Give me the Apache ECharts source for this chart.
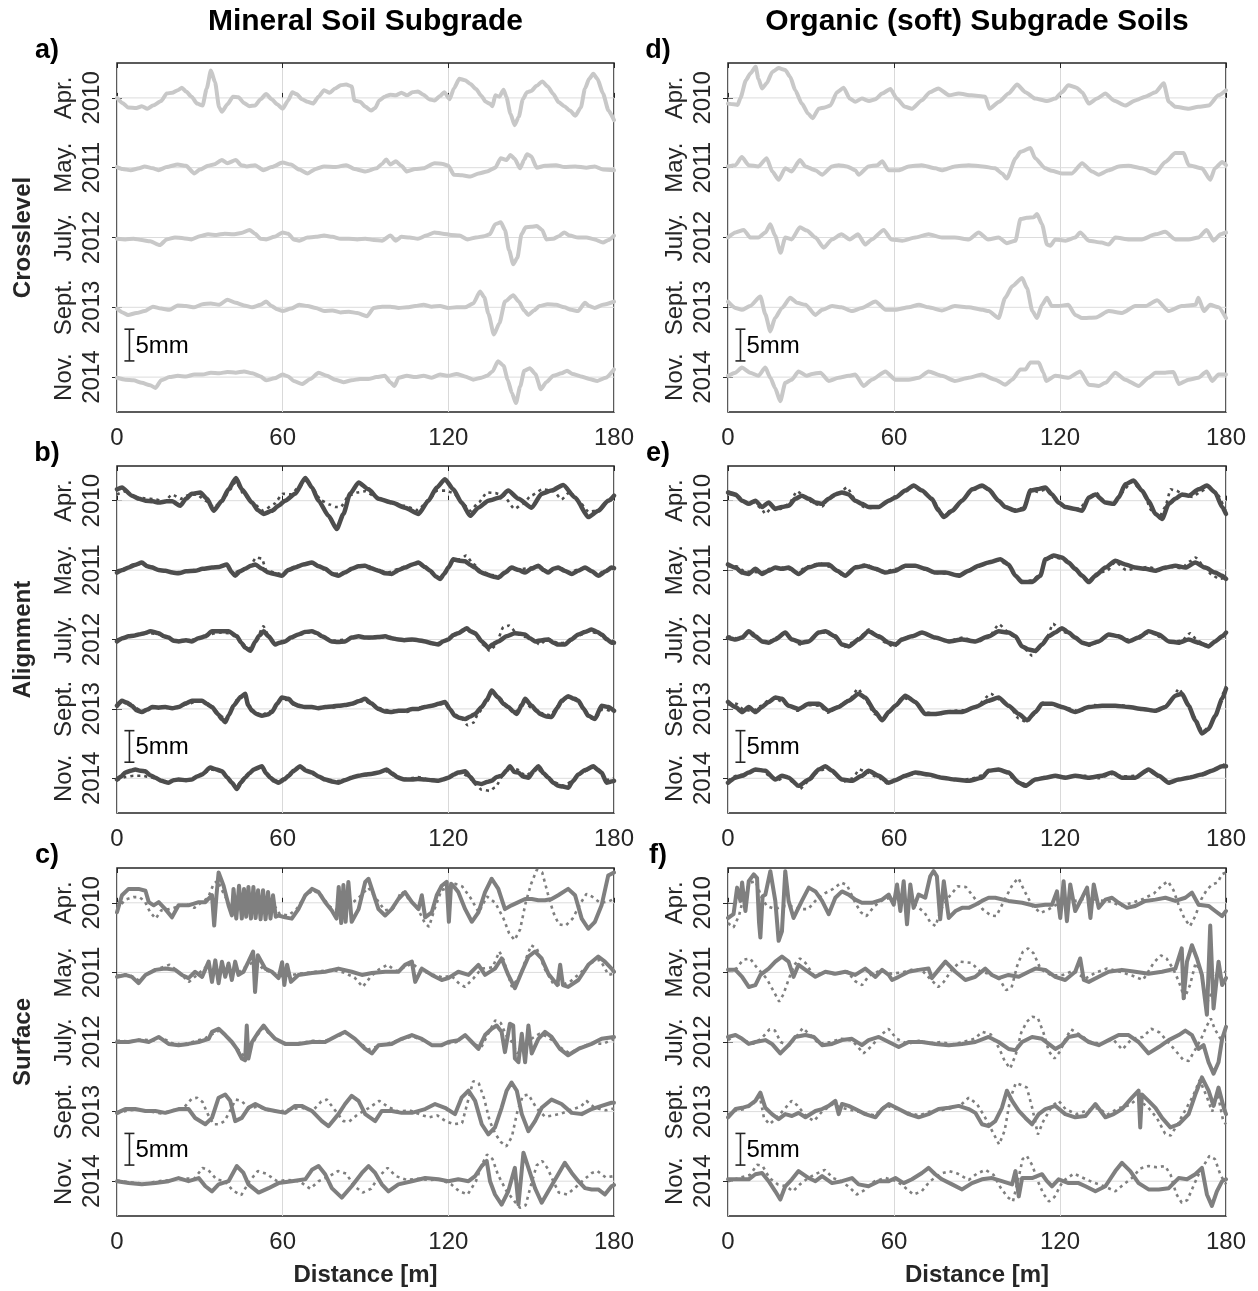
<!DOCTYPE html>
<html>
<head>
<meta charset="utf-8">
<script src="https://cdn.jsdelivr.net/npm/echarts@6/dist/echarts.min.js"></script>
<style>
html,body{margin:0;padding:0;background:#fff}
#chart{width:1258px;height:1291px}
</style>
</head>
<body>
<div id="chart"></div>
<script>
// ---- axes / labels ----
const distanceTicks = [0, 60, 120, 180];
const surveyLabels = ['Apr.\n2010', 'May.\n2011', 'July.\n2012', 'Sept.\n2013', 'Nov.\n2014'];
const traceSpacing = 11;      // mm between stacked surveys
const scaleBarMm = 5;

// ---- Crosslevel, mineral soil subgrade [distance m, mm] ----
const cxM10 = [[0,0],[2,-0.8],[4,-1.5],[7,-1.6],[9,-1.3],[11,-1.7],[13,-1.2],[16,-0.5],[18,0.7],[20,0.8],[22,1.2],[23.5,1.6],[25,1.0],[27,0.2],[29,-0.9],[31,-1.2],[32.5,1.5],[34,4.3],[35.5,2.5],[37,-1.5],[38,-2.2],[40,-1.0],[42,0.2],[44,0.1],[46,-0.8],[48,-1.3],[50,-1.2],[52,-0.2],[54,0.6],[56,-0.2],[58,-1.0],[60,-1.7],[62,-0.4],[63.5,0.9],[65,0.6],[67,-0.2],[69,-0.6],[71,-0.9],[73,0.2],[75,1.2],[77,0.8],[79,1.5],[81,2.0],[83,2.1],[85,1.8],[86,-0.4],[88,-0.6],[90,-1.4],[92,-2.0],[93.5,-1.6],[95,-0.4],[97,0.2],[99,0.5],[101,0.4],[103,0.8],[105,0.4],[107,0.9],[109,1.0],[111,0.5],[113,-0.2],[115,-0.4],[117,0.3],[118.5,0.9],[120.5,-0.2],[122,1.5],[124,3.0],[126,2.8],[128,2.2],[130,1.4],[132,0.3],[133.5,-0.6],[135,-0.9],[136,-1.3],[137,0.4],[138.5,0.2],[140,1.3],[141,0.2],[142.5,-2.5],[144,-4.3],[145.5,-3.0],[147,-0.2],[148.5,0.9],[150,1.1],[152,1.9],[154,2.6],[156,1.8],[158,0.6],[160,-0.7],[162,-1.3],[164,-2.0],[166,-2.8],[168,-1.5],[169.5,1.5],[171,3.0],[172.5,3.8],[174,3.0],[176,0.7],[178,-2.0],[180,-3.5]];
const cxM11 = [[0,0.1],[2,-0.2],[5,-0.4],[8,-0.1],[10,0.2],[13,-0.1],[15,-0.4],[18,0.1],[22,0.5],[25,0.3],[28,-0.9],[30,-0.3],[33,0.3],[35,0.5],[38,1.2],[40,0.7],[43,1.2],[45,0.4],[47,0.2],[50,0.4],[53,-0.4],[56,0.1],[60,0.8],[63,0.5],[66,-0.3],[69,-0.9],[72,-0.2],[75,0.2],[79,0.1],[83,0.4],[86,-0.2],[90,-0.6],[94,-0.1],[96,0.6],[97.5,1.3],[99,0.5],[101,1.0],[103,0.3],[105,-0.6],[108,-0.2],[111,-0.1],[115,0.7],[118,0.6],[120,0.3],[122,-1.1],[125,-1.2],[128,-1.4],[131,-0.9],[134,-0.6],[137,0.0],[139,1.5],[141,1.2],[142.5,2.0],[144,1.4],[146,-0.1],[147.5,1.3],[148.5,2.1],[150,1.8],[152,0.0],[155,0.3],[159,0.4],[162,0.1],[166,0.2],[170,0.0],[173,0.2],[176,-0.3],[180,-0.4]];
const cxM12 = [[0,-0.2],[3,-0.3],[6,-0.2],[9,-0.4],[12,-0.6],[15.5,-1.2],[18,-0.3],[21,0.0],[24,-0.1],[27,-0.3],[30,0.2],[33,0.5],[36,0.4],[39,0.6],[42,0.5],[45,0.7],[48,1.2],[50,0.6],[52,-0.2],[54,-0.3],[57,0.1],[60,0.8],[62,0.6],[64,-0.3],[66,-0.5],[69,0.0],[72,0.1],[75,0.3],[78,0.1],[81,-0.2],[84,-0.2],[87,-0.3],[90,-0.2],[93,-0.4],[96,-0.5],[99,0.3],[101,-0.5],[103,0.1],[106,0.0],[109,-0.2],[112,0.3],[115,0.8],[118,0.6],[121,0.4],[124,0.3],[127,-0.3],[130,0.0],[133,0.2],[135,0.5],[137,2.1],[139,2.4],[140.5,1.2],[142,-2.0],[143.5,-4.2],[145,-3.2],[146.5,0.5],[148,1.6],[150,1.7],[152,1.8],[154,1.2],[155.5,-0.3],[158,-0.2],[160,0.2],[162,0.8],[164,0.3],[167,0.0],[170,0.0],[173,-0.3],[176,-0.8],[178,-0.4],[180,0.3]];
const cxM13 = [[0,-0.2],[2,-0.8],[4,-1.2],[7,-0.9],[10,-0.6],[13,0.1],[16,-0.2],[19,-0.4],[22,0.3],[25,0.2],[28,0.0],[31,0.5],[34,0.6],[37,0.4],[40,1.2],[43,0.7],[46,0.3],[49,0.0],[52,0.4],[54,0.9],[56,0.2],[58,-0.3],[60,-0.6],[63,-0.2],[66,0.4],[69,0.2],[72,-0.1],[75,-0.6],[78,-0.5],[81,-0.8],[84,-0.7],[87,-0.9],[90.5,-1.4],[93,-0.1],[96,0.1],[99,0.1],[102,-0.1],[105,0.0],[108,0.2],[111,0.4],[114,0.1],[117,0.2],[120,-0.1],[123,0.0],[126,0.0],[129,0.6],[131.5,2.5],[133,1.6],[134.5,-1.0],[136.5,-4.3],[138.5,-2.5],[140.5,0.9],[143.5,1.9],[145.5,0.9],[147.5,-0.5],[149,-1.2],[151,-0.5],[153,0.2],[156,0.5],[159,0.4],[162,0.0],[164.5,-0.4],[167,-0.6],[169.5,0.7],[171,0.2],[173,-0.1],[176,0.4],[180,0.9]];
const cxM14 = [[0,-0.1],[3,-0.4],[6,-0.5],[9,-0.9],[12,-1.3],[14,-1.7],[16,-0.5],[19,0.0],[22,0.2],[25,0.1],[28,0.4],[31,0.4],[34,0.7],[37,0.6],[40,0.8],[43,0.7],[46,0.9],[49,0.6],[52,0.1],[54,-0.5],[57,-0.2],[60,0.4],[62,0.1],[64,-0.6],[67,-1.1],[70,-0.3],[73,0.7],[76,0.2],[79,-0.4],[82,-0.8],[85,-0.5],[88,-0.3],[91,-0.3],[94,0.0],[97,0.2],[99,-0.8],[100.5,-1.4],[102,-0.1],[105,0.2],[108,0.0],[111,0.2],[114,-0.1],[117,0.4],[120,0.2],[123,0.5],[126,0.1],[129,-0.4],[132,-0.1],[134,0.2],[136,0.9],[138,2.5],[140,1.8],[141.5,-0.4],[143,-2.5],[144.5,-4.1],[146,-1.5],[147.5,1.0],[149.5,1.4],[151.5,0.5],[153.5,-1.9],[155.5,-0.8],[158,0.2],[161,0.6],[163,1.0],[165,0.5],[168,0.1],[171,-0.3],[174,-0.6],[177,-0.1],[180,1.2]];

// ---- Crosslevel, organic subgrade ----
const cxO10 = [[0,-0.9],[2,-1.0],[3.5,-1.1],[4.5,0.0],[6.5,2.8],[8,3.8],[10,4.9],[11,3.0],[12.3,1.5],[14,2.3],[16,4.1],[18.3,4.7],[20.7,4.4],[22.5,3.3],[24.3,1.2],[26.7,-0.9],[29,-2.5],[30.6,-3.2],[32.8,-1.7],[35,-1.5],[37,-1.2],[39.4,0.9],[41.8,1.6],[44,-0.1],[46,-0.6],[48.4,-0.1],[51,-0.5],[53.3,-0.2],[55.7,0.7],[58.7,1.4],[61,-0.1],[64,-1.4],[66.5,-1.7],[70,-0.4],[73,0.9],[76,1.5],[80,0.4],[83.4,0.7],[88,0.4],[93,0.2],[94.5,-1.7],[98,-0.6],[101.4,0.7],[104.5,2.1],[107.5,0.9],[111,-0.1],[115.3,-0.5],[118.3,-0.1],[120.7,0.9],[123,2.0],[126,1.6],[128,0.9],[130.4,-0.9],[133.4,-0.1],[136.4,0.7],[139.4,-0.4],[143.6,-1.2],[147.2,-0.4],[150.8,0.2],[154.5,0.9],[157.5,2.3],[159.3,-0.6],[161.7,-1.4],[166.5,-1.7],[170,-1.4],[173.7,-1.2],[177.3,0.4],[180,1.2]];
const cxO11 = [[0,0.2],[2.7,0.4],[5,1.7],[7.5,0.4],[11,0.2],[14,1.5],[16,-0.6],[18.3,-1.9],[20.7,-0.1],[23,-0.6],[26,1.2],[28,0.2],[31.6,-0.4],[34,-1.1],[37.6,0.2],[40,0.4],[43,0.2],[46,-0.4],[47.2,-1.1],[50.8,0.2],[54,0.4],[55.7,1.0],[58,-0.4],[61.7,-0.4],[65.3,0.2],[70,0.4],[75,-0.1],[77.3,-0.4],[82,0.2],[87,0.4],[92,0.2],[96.6,-0.1],[99,-0.9],[100.8,-1.7],[104,1.5],[105.7,2.5],[109.3,3.1],[111,1.5],[114.7,-0.1],[117,-0.5],[120.7,-0.9],[124.3,-0.9],[128,0.7],[131.6,-0.6],[134,-1.1],[137.6,-0.4],[141.2,0.2],[144.8,0.3],[149.6,-0.1],[154.5,-0.9],[158,0.9],[161.7,2.3],[164.7,2.3],[166.5,0.4],[171.3,-0.1],[174.3,-1.9],[176,-0.1],[178.6,0.9],[180,0.4]];
const cxO12 = [[0,0.0],[2.7,0.8],[5.7,1.2],[8,0.0],[11,0.0],[13.5,0.8],[15.3,2.1],[17,0.3],[19,-2.4],[20.7,0.0],[23,-0.3],[26,1.6],[28.5,1.1],[31.6,0.0],[34.6,-1.6],[37.6,-0.3],[41,0.5],[44,-0.3],[47,0.5],[49.6,-1.1],[52,-0.3],[56.3,1.2],[59,-0.3],[63,-0.5],[67.7,0.0],[72.5,0.5],[77.3,0.0],[82,0.0],[87,-0.3],[90.6,0.8],[94,-0.3],[97.8,0.0],[100.8,-0.9],[103.9,-0.5],[105.7,2.9],[108,3.1],[110.5,3.2],[111.7,3.7],[113.5,2.1],[115.3,-1.1],[116.5,-1.3],[118.3,-0.3],[122,-0.5],[125.5,0.0],[127.3,0.8],[130.4,-0.5],[135,-0.8],[137.6,-1.1],[140,0.0],[145,-0.3],[149.6,-0.3],[154.5,0.5],[158,0.9],[161.7,-0.3],[166.5,-0.3],[170,0.0],[173,1.2],[175.5,-0.5],[178,0.5],[180,0.8]];
const cxO13 = [[0,0.9],[2.7,-0.1],[5,-0.4],[8,0.2],[11.7,1.7],[13.5,-1.1],[15.3,-3.8],[17,-1.7],[19.5,-0.1],[22.5,1.5],[25,0.7],[28,0.4],[31.6,-1.2],[34,-0.4],[37.6,0.2],[41,0.0],[44.8,-0.6],[48.4,-0.1],[53.3,0.9],[57,-0.4],[60.5,-0.4],[65.3,0.0],[69,0.4],[72.5,0.0],[77.3,-0.5],[82,0.2],[87,0.0],[92,-0.4],[94.2,-0.6],[97.8,-1.7],[100.2,1.5],[102.7,3.3],[106.3,4.6],[108.1,3.0],[110,-0.6],[111.7,-1.7],[113.5,0.4],[115.3,1.5],[117,0.2],[119.5,0.2],[123,0.4],[125.5,-1.2],[128,-1.7],[133,-1.6],[137.6,-0.6],[142.4,-0.9],[147.2,0.2],[151,0.2],[155.1,1.1],[159.3,-0.6],[164,0.2],[169,0.4],[170,1.5],[172,-0.6],[174.3,0.4],[177.3,0.0],[180,-1.7]];
const cxO14 = [[0,0.2],[2.7,0.7],[5,1.5],[8,0.7],[11,0.2],[13.5,1.5],[15.3,-0.1],[17,-1.7],[18.9,-3.8],[20.7,-0.9],[23,-0.4],[25.5,0.9],[28.5,0.2],[30.4,0.5],[33.4,0.7],[36.4,-0.6],[40,-0.1],[43.6,0.2],[46,0.4],[49,-1.4],[52,-0.4],[56.9,0.9],[60.5,-0.4],[65.3,-0.4],[69,-0.1],[72.5,0.9],[77.3,0.2],[82,-0.6],[87,-0.1],[91.8,0.4],[96.6,-0.4],[100.2,-1.2],[102.7,-0.4],[105.7,1.2],[107.5,1.2],[109.3,2.3],[112.3,2.3],[114,0.7],[115,-0.6],[118.3,0.2],[123,-0.1],[127.3,0.9],[130.4,-1.2],[134,-1.4],[136.4,-0.9],[140,0.7],[143.6,-0.4],[148.4,-1.4],[152,-0.1],[154.5,0.7],[158,0.7],[161,0.8],[163,-1.1],[166.5,-0.4],[170,-0.1],[173,0.9],[175,-0.6],[177.3,0.4],[180,0.4]];

// ---- Alignment, mineral soil subgrade (solid and dotted) ----
const alM10 = [[0,1.8],[1.8,2.1],[5.4,0.8],[8,0.3],[10.3,0.0],[13,-0.1],[15.1,-0.3],[18,-0.1],[20,-0.1],[22.9,-0.8],[25,0.3],[27.1,1.1],[30.2,1.3],[32.6,0.3],[35,-1.6],[38,0.0],[40.4,1.8],[43.1,3.6],[45.2,1.8],[48.9,-0.3],[51,-1.5],[53.1,-2.1],[56.1,-1.6],[58.5,-0.8],[60.9,0.0],[64.5,1.1],[68.2,3.6],[70.6,2.1],[73,0.0],[76.6,-2.4],[79.6,-4.5],[82,-2.1],[84.4,1.1],[87.5,2.9],[91.1,1.8],[94.7,0.3],[99.5,-0.3],[104.3,-1.1],[109.2,-2.1],[112.8,0.0],[115.8,2.1],[118.8,3.4],[121.8,1.8],[124.8,-0.3],[127.9,-2.4],[130.9,-1.1],[134.5,0.0],[138.7,0.5],[141.7,1.6],[145.4,0.3],[150.2,-1.1],[153.8,1.1],[157.4,1.6],[161.6,2.5],[165.9,0.5],[170.7,-2.6],[174.3,-1.6],[177.9,0.0],[180,0.8]];
const alM10d = [[0,1.0],[3,1.5],[6,0.6],[10,0.4],[14,0.2],[17,-0.2],[20,1.0],[23,0.3],[26,0.9],[29,1.0],[32,0.0],[35,-1.0],[38,-0.2],[41,1.8],[43,3.0],[46,1.0],[49,-0.3],[53,-1.6],[57,-0.5],[60,1.1],[63,1.0],[66,2.2],[68.5,3.2],[71,1.8],[74,0.0],[77,-0.6],[79,-1.0],[81,-1.0],[84,0.8],[87,1.3],[90,1.5],[94,0.5],[99,-0.2],[104,-0.8],[109,-1.5],[113,0.2],[116,1.6],[119,1.6],[122,1.2],[125,-0.3],[128,-1.6],[131,-0.3],[134,1.3],[137,1.2],[140,0.8],[144,-1.3],[147,-0.5],[150,0.8],[154,1.8],[158,1.6],[161,0.2],[164,1.4],[167,0.0],[171,-1.8],[174,-1.5],[178,-0.2],[180,0.5]];
const alM11 = [[0,-0.4],[2,0.0],[4.2,0.4],[6.5,0.8],[9,1.2],[11,0.6],[12.7,0.4],[15,0.0],[17.5,-0.1],[20,-0.4],[22.3,-0.5],[25,-0.2],[28.3,-0.1],[31,0.2],[34.4,0.4],[37,0.5],[39.8,0.9],[41.5,-0.3],[42.8,-0.9],[44.5,-0.2],[46.4,0.2],[48.5,0.7],[50.1,0.9],[52.5,0.2],[54.9,-0.4],[57,-0.6],[59.7,-0.9],[62,0.0],[64.5,0.4],[67.5,0.9],[70.6,1.2],[73,0.6],[75.4,0.2],[78,-0.6],[80.2,-0.9],[82.5,-0.4],[85,0.2],[87.5,0.6],[89.9,0.7],[92,0.3],[94.7,-0.1],[97,-0.5],[99.5,-0.6],[102,0.0],[104.3,0.4],[107,0.9],[109.2,1.2],[111.5,0.5],[113.4,-0.1],[115.5,-1.0],[117,-1.4],[118.5,-0.6],[120,0.4],[121.8,1.7],[124,1.5],[126.1,1.4],[128,0.8],[129.7,0.4],[131.5,-0.3],[133.3,-0.6],[136,-1.0],[138.1,-1.2],[140.5,-0.4],[142.9,0.4],[145.5,0.0],[147.8,-0.4],[150,0.2],[152.6,0.7],[154.5,0.0],[156.2,-0.4],[158,0.2],[159.8,0.4],[162,-0.1],[164.7,-0.6],[167,-0.1],[169.5,0.4],[172,-0.2],[174.3,-0.9],[177,-0.2],[179.1,0.4],[180,0.3]];
const alM11d = [[0,-0.1],[3,0.3],[6,0.9],[9,1.0],[12,0.6],[16,-0.1],[20,-0.3],[24,-0.3],[28,0.0],[32,0.3],[36,0.5],[40,0.7],[42,-0.5],[45,0.0],[48,0.6],[50.5,2.0],[52.5,1.8],[54,0.0],[57,-0.4],[60,-0.7],[64,0.5],[68,1.0],[71,1.0],[75,0.1],[79,-0.6],[83,-0.3],[87,0.5],[90,0.8],[94,0.1],[98,-0.4],[102,0.2],[106,0.8],[109,1.0],[112,0.3],[115,-0.8],[117,-1.2],[119,-0.2],[121.5,1.5],[124,1.7],[126.5,2.3],[129,1.0],[132,-0.2],[136,-0.8],[139,-1.0],[142,0.2],[146,0.1],[150,0.4],[153,0.5],[156,-0.3],[160,0.5],[164,-0.4],[168,0.3],[171,0.0],[174,-0.7],[177,0.0],[180,0.5]];
const alM12 = [[0,-0.3],[2,0.2],[4.2,0.5],[6,0.6],[7.8,0.8],[10,1.0],[12.1,1.3],[15.1,1.0],[17,0.5],[18.7,0.3],[20.5,-0.2],[22.3,-0.3],[25,-0.1],[27.1,-0.3],[29.5,0.2],[32,0.5],[34.4,1.3],[37.5,1.3],[40.4,1.3],[43.4,0.5],[45,-0.5],[46.4,-1.3],[48.3,-1.8],[50.1,-0.3],[51.5,0.6],[53.1,1.3],[54.9,0.5],[57.3,-0.8],[59,-0.5],[60.9,-0.3],[63,0.3],[65.7,0.8],[68,1.2],[70.6,1.3],[72.5,1.0],[74.2,0.5],[77.8,-0.3],[80,-0.4],[82.6,-0.3],[85,0.3],[87.5,0.5],[90,0.3],[92.3,0.3],[94.5,0.4],[97.1,0.5],[99.5,0.2],[101.9,0.0],[104,-0.1],[106.8,0.0],[109,-0.1],[111.6,-0.3],[114,-0.6],[116.4,-0.8],[118,-0.3],[120,0.0],[121.8,0.7],[123.6,1.0],[126.7,1.8],[128,1.3],[129.7,1.0],[132.1,-0.3],[134.5,-1.3],[136,-0.8],[138.1,-0.3],[141.1,0.5],[144.1,1.0],[146,0.9],[147.8,0.8],[149.5,0.2],[151.4,-0.3],[154,-0.1],[156.2,0.0],[158,-0.5],[159.8,-0.8],[162.2,-0.8],[164.5,0.0],[167.1,0.8],[169.5,1.2],[171.9,1.6],[174,1.2],[175.5,0.8],[177.5,0.0],[179.1,-0.5],[180,-0.5]];
const alM12d = [[0,0.0],[3,0.3],[6,0.5],[9,0.9],[12,1.0],[15,0.8],[18,0.4],[21,-0.2],[25,-0.2],[29,0.1],[33,0.8],[37,1.1],[41,1.0],[44,0.0],[46.5,-1.0],[48.5,-1.5],[50.5,0.0],[53,2.1],[55,0.5],[57.5,-0.7],[61,-0.2],[65,0.6],[69,1.1],[72,1.0],[75,0.3],[79,-0.2],[83,0.0],[87,0.5],[91,0.2],[95,0.3],[99,0.4],[103,0.0],[107,-0.1],[111,-0.2],[115,-0.7],[118,-0.4],[121,0.4],[124,1.2],[127,1.6],[130,0.8],[132.5,-0.8],[135,-1.8],[137,-1.0],[140,2.0],[142,2.2],[145,0.9],[148,0.4],[151,-0.1],[153,-0.8],[156,0.1],[160,-0.6],[163,-0.5],[167,0.6],[171,1.3],[174,1.0],[177,0.2],[180,-0.3]];
const alM13 = [[0,0.5],[1.8,1.3],[3.5,1.0],[5.4,0.5],[7,-0.2],[9,-0.5],[11,-0.1],[12.7,0.3],[15,0.2],[17.5,0.3],[20,0.1],[22.3,0.3],[25,0.9],[27.1,1.3],[29,1.3],[30.8,1.3],[32.5,0.8],[34.4,0.3],[36.5,-0.8],[38,-1.6],[39.2,-2.1],[40.5,-1.0],[42.2,0.5],[44.6,1.8],[46.4,2.4],[47.5,0.6],[48.9,-0.3],[50.5,-0.8],[52.5,-1.1],[54.5,-0.9],[56.1,-0.5],[58,0.8],[59.7,1.8],[62.1,1.6],[64,0.8],[65.7,0.5],[68,0.3],[70.6,0.3],[73,0.1],[75.4,0.3],[78,0.4],[80.2,0.5],[82.5,0.6],[85,0.8],[87.5,1.2],[89.9,1.6],[92,0.9],[94.7,0.0],[97,-0.4],[99.5,-0.5],[102,-0.3],[104.3,-0.3],[107,0.0],[109.2,0.0],[111.5,0.3],[114,0.5],[116.5,0.8],[118.8,1.1],[120.5,0.0],[122.4,-1.1],[124,-1.4],[126.1,-1.6],[128,-1.2],[129.7,-0.8],[132.1,0.3],[134,1.5],[135.7,2.9],[138.1,1.8],[140,0.8],[141.7,0.3],[143.5,-0.4],[144.8,-0.8],[146.5,0.5],[147.8,1.6],[150.2,0.5],[152,-0.3],[153.2,-0.8],[155.5,-1.2],[157.4,-1.3],[159.5,0.2],[161,1.3],[163.4,2.0],[165.5,1.6],[167.1,1.3],[169,0.0],[170.7,-1.1],[173.1,-1.6],[175.5,0.5],[177.9,0.3],[180,-0.3]];
const alM13d = [[0,0.8],[3,1.0],[6,0.3],[9,-0.3],[13,0.2],[17,0.4],[21,0.2],[25,0.7],[29,1.2],[32,1.0],[35,0.0],[38,-1.2],[39.5,-1.8],[42,0.3],[44,1.9],[46,2.2],[48.5,0.0],[52,-1.0],[56,-0.3],[59.5,1.5],[62,1.4],[66,0.6],[70,0.2],[74,0.3],[78,0.2],[82,0.5],[86,0.9],[89.5,1.3],[93,0.5],[97,-0.2],[101,-0.3],[105,-0.5],[109,0.2],[113,0.4],[117,0.7],[119,0.9],[122,-0.8],[125,-1.6],[127,-2.6],[129,-2.2],[131,-0.6],[134,1.2],[136,2.7],[138.5,1.8],[141,0.4],[144,-0.6],[147.5,1.3],[150,0.2],[153,-0.6],[157,-1.0],[160,0.6],[163,1.8],[166,1.7],[169,0.2],[171,-1.5],[173,-1.6],[176,0.0],[180,-0.5]];
const alM14 = [[0,-0.2],[1.5,0.3],[3,0.9],[5,1.2],[6.6,1.4],[8.5,1.2],[10.3,1.1],[12,0.5],[13.9,0.1],[16,-0.4],[18.7,-0.7],[20.5,-0.3],[22.3,-0.2],[25,-0.3],[27.1,-0.2],[29,0.3],[30.8,0.6],[33.8,1.7],[36,1.4],[38,1.1],[40,0.1],[41.6,-0.7],[43.4,-1.7],[45,-0.6],[46.4,0.1],[48,0.8],[49.5,1.4],[52.5,1.9],[54,0.8],[55.5,0.1],[57,-0.4],[58.5,-0.7],[60.5,-0.2],[62.1,0.4],[64,1.2],[66.3,1.9],[68.5,1.2],[70.6,0.9],[73,0.3],[75.4,-0.2],[78,-0.5],[80.2,-0.7],[82.5,-0.3],[85,0.1],[87.5,0.4],[89.9,0.6],[92,0.7],[94.7,0.9],[97.7,1.4],[99.5,0.8],[101.9,0.1],[104,-0.2],[106.8,-0.2],[109,-0.1],[111.6,-0.2],[114,-0.3],[116.4,-0.4],[118,-0.2],[120,0.1],[122,0.6],[123.6,0.9],[126.1,1.1],[128,0.2],[129.7,-0.7],[132.1,-0.9],[134,-0.6],[135.7,-0.4],[137.5,0.2],[139.3,0.4],[141,1.2],[142.3,1.9],[144,1.0],[145.4,0.9],[147,0.3],[149,0.1],[151,1.2],[152.6,1.9],[154.5,0.8],[156.2,0.1],[158,-0.7],[159.8,-1.2],[161.5,-1.3],[163.4,-1.5],[165,-0.5],[167.1,0.6],[169.5,1.3],[172.5,1.9],[174,1.4],[175.5,0.9],[177.3,-0.7],[179,-0.5],[180,-0.4]];
const alM14d = [[0,-0.3],[3,0.2],[6,0.4],[9,0.4],[12,0.2],[15,-0.2],[18,-0.5],[22,-0.3],[26,-0.2],[30,0.4],[34,1.4],[38,1.1],[41,-0.3],[43,-1.4],[46,0.0],[49,1.2],[52,1.7],[55,0.3],[58,-0.5],[62,0.3],[66,1.7],[70,1.0],[74,0.1],[78,-0.6],[82,-0.3],[86,0.3],[90,0.5],[94,0.9],[97,1.2],[101,0.3],[105,-0.1],[109,0.2],[113,-0.2],[117,-0.3],[121,0.3],[124,1.0],[127,0.4],[130,-1.0],[132,-1.8],[135,-2.0],[137,-1.4],[140,0.6],[142,1.7],[145,1.4],[148,0.4],[152,1.6],[155,0.5],[158,-0.6],[162,-1.2],[165,-0.4],[168,0.8],[172,1.7],[175,1.0],[177,-0.3],[180,0.0]];

// ---- Alignment, organic subgrade ----
const alO10 = [[0,1.3],[2.7,1.0],[5.1,0.0],[7.5,-0.5],[9.9,0.0],[12.3,-1.0],[14.7,-0.3],[17.1,-1.3],[19.5,-1.0],[21.9,-0.8],[24.3,0.3],[26.7,0.8],[29.2,0.3],[31.6,-0.3],[34,-0.5],[36.4,0.3],[38.8,1.0],[41.2,1.3],[43.6,1.0],[46,0.0],[48.4,-0.5],[50.8,-1.0],[54.5,-1.0],[58.1,0.0],[60.5,0.5],[64.1,1.6],[67.1,2.4],[70.1,1.6],[73.7,0.3],[76,-1.5],[78,-2.6],[81,-1.6],[84.6,0.0],[88.2,1.8],[91.8,2.4],[94.2,1.8],[97.8,0.0],[100.2,-1.0],[103.9,-1.6],[106.9,-1.3],[109.3,1.6],[111.7,1.8],[114.7,2.1],[117.1,1.0],[119.5,-0.3],[121.9,-1.0],[125.5,-1.3],[128,-1.6],[130.4,0.5],[132.8,1.0],[136.4,-0.3],[139.4,-0.5],[141.2,0.5],[143.6,2.6],[146.6,3.2],[149.6,1.6],[152,0.0],[154.5,-2.1],[156.9,-2.9],[159.3,-0.5],[161.7,0.3],[164.1,1.0],[166.5,0.8],[170.1,1.8],[173.1,2.4],[176.1,1.3],[178.6,-1.0],[180,-2.1]];
const alO10d = [[0,1.5],[3,0.8],[6,-0.3],[9,-0.2],[12,-1.2],[13.5,-2.1],[16,-1.0],[19,-1.3],[22,-0.5],[25,1.5],[28,0.5],[31,-0.4],[34,-0.9],[37,0.5],[40,1.1],[43,2.1],[46,0.2],[49,-1.0],[52,-1.2],[56,-0.6],[60,0.6],[64,1.4],[67,2.2],[70,1.5],[74,0.0],[78,-2.3],[81,-1.4],[85,0.2],[88,1.6],[92,2.2],[95,1.5],[98,-0.2],[101,-1.2],[104,-1.4],[107,-1.1],[109.5,1.8],[112,1.4],[115,1.8],[117,0.8],[120,-0.5],[123,-1.2],[127,-1.3],[130,0.2],[133,1.3],[136,0.0],[139,-0.7],[142,1.2],[146,3.0],[150,1.4],[153,-1.5],[156,-2.5],[158,-1.0],[160,1.8],[162,1.6],[165,0.8],[168,0.6],[171,1.5],[174,2.2],[177,0.9],[180,-1.8]];
const alO11 = [[0,0.9],[2.7,0.4],[5.1,-0.4],[7.5,-0.6],[9.9,0.2],[12.3,-0.6],[14.7,-0.1],[17.1,0.4],[19.5,0.2],[21.9,0.4],[25.5,-0.6],[29,0.4],[32.8,0.9],[36.4,0.9],[39.4,-0.1],[42.4,-0.9],[46,0.4],[49.6,0.7],[53.3,0.2],[56.9,-0.4],[60.5,-0.1],[64.1,0.7],[67.7,0.7],[71.3,0.2],[74.9,-0.4],[78.6,-0.4],[83.4,-0.9],[87,-0.1],[90.6,0.7],[94.2,1.2],[98.4,1.7],[101.4,0.9],[103.9,-0.9],[106.3,-1.9],[109.9,-1.9],[112.9,-0.9],[114.7,1.7],[117.7,2.3],[120.7,2.0],[123.1,1.2],[125.5,0.2],[128,-0.9],[130.4,-1.9],[132.8,-0.9],[136.4,0.4],[140,1.5],[143.6,0.9],[147.2,0.4],[150.8,0.2],[154.5,-0.1],[158.1,0.4],[161.7,0.7],[165.3,0.4],[168.9,1.2],[172.5,0.4],[176.1,-0.4],[178.6,-0.9],[180,-1.4]];
const alO11d = [[0,0.6],[3,0.6],[6,-0.2],[9,-0.3],[12,-0.4],[15,0.2],[18,0.5],[21,0.3],[25,-0.3],[29,0.6],[33,1.1],[36,0.6],[39,0.0],[42,-1.0],[46,0.6],[50,0.9],[54,0.0],[57,-0.2],[61,0.2],[64,0.5],[68,0.6],[72,0.0],[76,-0.5],[80,-0.6],[84,-0.7],[88,0.2],[91,0.8],[95,1.4],[98.5,1.5],[101.5,0.6],[104,-1.1],[107,-1.8],[110,-1.6],[113,-0.6],[115,1.9],[118,2.0],[121,1.8],[124,0.8],[127,-0.5],[130.5,-1.7],[133,-0.6],[137,-0.1],[140,1.3],[144,0.0],[148,0.3],[152,0.5],[156,0.0],[160,0.5],[164,0.3],[167,1.4],[169,2.0],[172,0.6],[175,-0.8],[177.5,-1.4],[180,-1.2]];
const alO12 = [[0,0.3],[2.7,0.0],[5.1,0.3],[7.5,1.3],[9.9,0.5],[12.3,-0.3],[14.7,-0.5],[17.1,0.0],[20.7,1.1],[23.1,0.0],[26.7,-0.5],[29.2,-0.3],[32.8,1.1],[35.2,1.3],[38.8,0.5],[41.2,-0.8],[43.6,-1.1],[47.2,0.0],[50.8,1.3],[54.5,0.5],[58.1,-0.5],[60.5,-0.8],[62.9,0.0],[66.5,0.5],[70.1,1.1],[74.9,0.3],[79.8,-0.3],[84.6,0.0],[89.4,-0.3],[94.2,0.5],[97.8,1.3],[101.4,1.1],[103.9,0.5],[106.3,-1.1],[108.7,-1.6],[111.1,-1.8],[113.5,-0.8],[115.9,0.5],[118.3,1.1],[120.7,1.8],[123.1,1.1],[125.5,0.3],[128,-0.5],[130.4,-0.8],[134,-0.3],[137.6,0.8],[141.2,0.5],[144.8,-0.3],[148.4,0.3],[152,1.3],[155.7,0.8],[159.3,-0.3],[162.9,-0.5],[166.5,0.0],[170.1,-0.5],[173.7,-1.1],[176.1,-0.3],[178.6,0.5],[180,1.1]];
const alO12d = [[0,0.5],[3,0.2],[6,0.5],[8,1.4],[11,0.2],[14,-0.6],[17,0.2],[20,1.0],[23,0.2],[26,-0.8],[30,0.0],[33,1.2],[36,1.0],[39,0.2],[42,-1.2],[45,-0.5],[48,0.5],[51,1.6],[54,0.4],[57,-0.5],[60,-1.2],[63,0.2],[67,0.6],[70,1.0],[75,0.2],[80,-0.2],[85,0.3],[90,-0.4],[94,0.3],[98,2.4],[101,1.3],[104,0.2],[107,-1.4],[110,-2.6],[112,-1.5],[115,0.0],[117.5,2.5],[119,2.0],[121,1.2],[124,0.8],[127,0.0],[130,-1.0],[134,-0.4],[138,0.9],[142,0.2],[146,-0.1],[150,0.8],[153,1.2],[157,0.2],[160,-0.4],[164,-0.2],[167,1.0],[170,-0.3],[174,-1.0],[177,0.0],[180,0.8]];
const alO13 = [[0,1.1],[2.7,0.3],[5.1,-0.5],[7.5,0.3],[9.9,-0.5],[12.3,0.3],[14.7,1.1],[17.1,1.8],[19.5,1.6],[21.9,0.5],[25.5,0.0],[29.2,0.8],[32.8,0.8],[36.4,-0.3],[40,0.3],[43.6,1.3],[47.2,2.4],[49.6,1.8],[53.3,-0.5],[55.7,-1.8],[58.1,-0.5],[60.5,0.5],[64.1,2.1],[67.7,1.1],[71.3,-0.8],[74.9,-0.8],[79.8,-0.5],[84.6,-0.5],[89.4,0.3],[94.2,1.3],[97.8,1.8],[101.4,0.5],[105.1,-0.8],[108.1,-1.8],[111.1,-0.5],[113.5,0.8],[117.1,0.8],[120.7,0.3],[125.5,-0.5],[130.4,0.3],[135.2,0.5],[140,0.5],[144.8,0.3],[149.6,0.0],[154.5,-0.3],[158.1,0.3],[161.7,2.1],[164.1,2.4],[166.5,0.5],[168.9,-1.8],[171.3,-3.9],[173.7,-3.2],[176.1,-1.1],[178.6,1.6],[180,3.2]];
const alO13d = [[0,0.7],[3,0.8],[6,-0.2],[9,-0.3],[12,0.5],[15,1.5],[18,1.4],[21,0.8],[25,-0.3],[29,0.6],[33,0.5],[36,-0.6],[40,0.5],[44,1.5],[47,3.2],[50,1.2],[53,-0.8],[56,-1.6],[59,-0.2],[63,1.8],[67,1.3],[71,-0.5],[76,-0.9],[81,-0.3],[86,-0.2],[90,0.5],[95,2.4],[98,1.5],[102,0.3],[105,-1.5],[108,-2.1],[111,-0.7],[114,1.0],[118,0.6],[122,0.2],[127,-0.4],[132,0.6],[137,0.4],[142,0.6],[147,0.1],[152,-0.2],[157,0.0],[160,1.2],[163,3.2],[166,1.0],[169,-1.6],[171.5,-3.6],[174,-2.8],[177,-0.4],[179,2.5],[180,3.6]];
const alO14 = [[0,-0.7],[2.7,0.1],[5.1,0.4],[7.5,0.9],[9.9,1.4],[13.5,1.2],[17.1,-0.2],[19.5,0.4],[21.9,0.1],[25.5,-1.2],[29.2,-0.2],[32.8,1.4],[35.2,1.9],[37.6,1.2],[41.2,-0.2],[44.8,-0.4],[48.4,0.4],[50.8,1.2],[54.5,0.4],[58.1,-0.7],[60.5,-0.3],[64.1,0.4],[67.7,0.9],[72.5,0.6],[77.3,0.1],[82.2,-0.2],[87,-0.4],[91.8,0.1],[94.2,1.2],[97.8,1.4],[101.4,0.9],[105.1,-0.7],[107.5,-1.2],[111.1,-0.2],[114.7,0.1],[118.3,0.4],[121.9,0.1],[125.5,0.4],[130.4,0.1],[135.2,0.4],[138.8,0.9],[142.4,0.1],[147.2,0.1],[152,1.4],[155.7,0.4],[159.3,-0.7],[162.9,-0.2],[166.5,0.1],[171.3,0.6],[174.9,1.2],[178.6,1.9],[180,1.9]];
const alO14d = [[0,-0.4],[3,0.4],[6,0.6],[9,1.2],[12,1.3],[15,0.4],[18,-0.3],[21,0.3],[24,-0.8],[26,-1.7],[29,-0.5],[33,1.2],[36,1.6],[39,0.6],[42,-0.5],[45,0.0],[47.5,1.4],[50,1.0],[54,0.2],[58,-0.9],[61,-0.1],[65,0.6],[69,0.7],[73,0.4],[78,0.0],[83,-0.3],[88,-0.1],[92,0.5],[96,1.3],[100,1.1],[104,-0.3],[108,-1.0],[112,0.0],[116,0.3],[120,0.2],[124,0.3],[129,0.4],[134,0.0],[139,0.7],[143,0.3],[148,0.4],[152,1.2],[156,0.2],[160,-0.6],[164,0.0],[168,0.2],[172,0.8],[176,1.4],[180,2.4]];

// ---- Surface, mineral soil subgrade ----
const suM10 = [[0,-1.5],[1.8,1.2],[4.2,2.2],[7.8,2.2],[10.3,1.9],[11.5,0.1],[13.3,-0.4],[15.1,0.1],[17.5,-1.0],[19.9,-2.3],[22.3,-0.4],[25.9,-0.4],[29.6,0.1],[32,0.1],[34.4,1.2],[35.2,-3.6],[36,1.0],[36.8,4.8],[38.6,2.7],[40.4,-0.4],[41.6,-2.0],[42.2,2.2],[43.2,-2.5],[44.2,2.7],[45.2,-2.5],[46,2.2],[46.8,-2.2],[47.6,2.5],[48.5,-2.5],[49.4,2.5],[50.2,-2.4],[51.1,2.0],[52,-2.6],[52.9,2.0],[53.8,-2.6],[54.7,1.7],[55.6,-2.5],[56.5,1.2],[57.5,-2.2],[58.5,-2.0],[60.9,-2.3],[63.3,-2.5],[65.7,-1.0],[68.2,1.2],[70.6,2.2],[73,1.7],[75.4,0.1],[77.8,-1.2],[79.5,-2.5],[80.3,2.5],[81.2,-3.2],[82,2.8],[82.8,-3.0],[83.8,3.3],[85,-3.0],[87.5,-1.0],[89.9,3.3],[91.1,3.8],[92.3,2.2],[93.5,0.6],[94.7,-1.0],[97.1,-2.0],[99.5,-1.0],[101.9,0.6],[104.3,1.7],[106.8,0.1],[109.2,-1.0],[110.4,1.2],[111.6,-2.3],[114,-1.5],[115.8,1.2],[117.6,2.7],[119.4,3.3],[120.2,-3.0],[121,3.0],[121.8,2.7],[123.6,1.7],[126.1,-1.0],[128.5,-3.0],[130.9,-1.5],[133.3,1.7],[135.7,3.8],[138.1,2.2],[140.5,-1.0],[142.9,-0.4],[145.4,0.1],[147.8,0.6],[150.2,0.6],[152.6,0.4],[155,0.4],[157.4,0.6],[159.8,1.2],[163.4,2.2],[165.9,1.2],[168.3,-2.5],[170.7,-4.1],[173.1,-3.0],[175.5,-0.4],[177.9,4.3],[180,4.8]];
const suM10d = [[0,-1.0],[3,0.5],[6,0.9],[8,0.9],[10,0.3],[12,-1.5],[14,-2.5],[16,-1.2],[19,-1.0],[22,-0.6],[25,-0.2],[28,-0.8],[31,0.2],[33,0.8],[35,3.0],[36.5,3.5],[38,2.0],[41,-0.5],[44,0.5],[47,0.0],[50,0.3],[53,-0.5],[56,0.2],[59,-1.8],[62,-2.0],[65,-1.0],[68,1.0],[71,2.0],[74,1.2],[77,-0.6],[80,-1.2],[84,-0.5],[88,1.0],[91,2.4],[94,0.6],[97,-1.2],[100,-0.9],[103,1.8],[106,0.5],[109,-1.0],[111.5,-3.2],[113,-3.8],[115,-1.0],[117.5,2.0],[120,2.4],[122.5,3.0],[125,2.6],[128,0.8],[131,-1.5],[134,1.0],[137,0.0],[140,-2.5],[142,-4.8],[144,-5.9],[146,-4.2],[148,0.0],[150,3.0],[152,5.2],[154,4.8],[156,1.5],[158,-1.5],[160,-3.4],[162.5,-3.6],[165,-2.5],[168,0.0],[170,1.4],[172,1.0],[175,0.0],[178,0.2],[180,0.6]];
const suM11 = [[0,-0.7],[3,-0.4],[5.4,-0.7],[7.8,-1.7],[10.3,-0.4],[13.9,0.4],[17.5,0.6],[21.1,0.4],[23.5,-0.4],[25.9,-0.9],[28.3,0.1],[30.8,-0.7],[33.2,1.7],[34.4,-1.5],[35.6,1.9],[36.8,-1.7],[38,1.7],[39.2,-0.7],[40.4,1.4],[41.6,-1.2],[42.8,1.7],[44,-0.4],[45.8,0.1],[47.6,1.7],[49.3,3.3],[50,-3.1],[51,2.7],[53.7,0.6],[56.1,0.1],[58.5,-0.9],[59.8,1.6],[60.6,-2.0],[61.6,1.2],[63,-1.5],[65.7,-0.4],[70.6,-0.1],[75.4,0.1],[80.2,0.6],[85,0.1],[88.7,-0.4],[92.3,-0.1],[97.1,0.1],[101.9,0.1],[104.3,1.2],[106.8,1.7],[108,-1.5],[110.4,0.6],[114,-0.4],[117.6,-1.2],[120,-0.9],[123.6,0.1],[127.3,-0.4],[130.9,1.2],[133.3,-0.4],[136.9,0.6],[139.3,2.2],[141.7,-0.4],[144.1,-2.5],[146.6,0.1],[149,2.5],[151.4,3.3],[153.8,2.2],[156.2,-0.2],[159.5,-2.0],[160.5,1.2],[161.5,-2.0],[163.4,-2.3],[167.1,-1.2],[170.7,1.2],[174.3,2.5],[176.7,1.7],[179.1,0.6],[180,0.1]];
const suM11d = [[0,-0.5],[4,-0.3],[8,-1.3],[11,-0.2],[15,0.6],[19,1.2],[22,0.2],[26,-1.5],[29,-0.4],[32,0.8],[35,-0.3],[38,1.0],[41,0.2],[44,0.0],[47,1.0],[50,1.8],[53,0.5],[56,0.0],[59,-0.6],[62,-0.5],[66,-0.2],[70,0.0],[74,0.2],[78,0.4],[82,0.0],[86,-0.8],[89,-2.3],[92,-0.6],[95,0.5],[98,1.2],[101,0.2],[104,0.8],[107,1.4],[110,0.3],[114,-0.3],[118,-0.8],[121,-0.5],[124,-1.8],[126,-2.3],[129,-1.0],[132,0.6],[136,0.8],[138.5,3.3],[140,2.0],[143,-2.3],[146,-0.5],[148,2.0],[150,4.3],[152,3.8],[155,0.5],[158,-1.8],[161,-2.0],[164,-1.5],[168,0.0],[172,1.6],[175,2.0],[178,-0.4],[180,-0.2]];
const suM12 = [[0,0.0],[4.2,0.0],[7.8,0.3],[11.5,0.0],[15.1,0.8],[18.7,-0.3],[22.3,-0.5],[25.9,-0.3],[29.6,0.0],[33.2,0.5],[34.4,1.6],[36.8,2.1],[39.2,1.1],[41.6,0.0],[43.4,-1.1],[45.2,-2.6],[46.4,-2.9],[47,2.6],[47.6,-2.6],[48.9,0.0],[51.3,1.6],[53.1,2.6],[54.9,1.6],[57.3,0.5],[60.9,-0.3],[65.7,-0.3],[70.6,0.0],[75.4,0.0],[80.2,1.1],[82.6,1.6],[86.2,0.5],[89.9,-1.1],[92.3,-1.8],[94.7,-0.5],[99.5,-0.3],[103.1,0.5],[106.8,1.1],[110.4,0.5],[114,-0.5],[117.6,-0.5],[120,0.0],[123.6,0.3],[126.1,1.1],[128.5,0.0],[130.9,-1.1],[133.3,1.1],[135.7,2.1],[137.5,2.6],[139.3,1.6],[140.5,-1.6],[142.3,2.9],[143.5,2.6],[144.1,-2.6],[145.4,-3.2],[146.6,1.3],[147.8,-3.2],[149,2.6],[150.2,-1.8],[152.6,0.5],[155,1.6],[157.4,0.8],[160.4,-1.1],[163.4,-2.1],[167.1,-1.1],[171.9,-0.3],[175.5,0.5],[180,0.8]];
const suM12d = [[0,0.2],[5,0.1],[9,0.4],[13,0.2],[16,0.7],[20,-0.2],[24,-0.4],[28,0.1],[32,0.6],[35,1.4],[37,1.8],[40,0.9],[43,-0.8],[46,-2.2],[48,-1.0],[51,1.2],[53,2.2],[56,1.0],[59,0.0],[63,-0.4],[67,-0.1],[71,0.2],[75,0.1],[79,0.8],[83,1.4],[87,0.2],[91,-1.2],[95,-0.6],[99,-0.1],[103,0.4],[107,0.9],[111,0.2],[115,-0.6],[119,-0.3],[123,0.0],[126,1.2],[129,-0.3],[132,-0.8],[135,1.8],[137,3.4],[139,3.0],[141,1.0],[143,0.0],[145,-1.8],[147,-1.0],[150,0.5],[153,1.3],[155,1.0],[158,0.2],[161,-1.0],[164,-1.8],[168,-0.8],[172,-0.2],[176,-0.3],[180,0.5]];
const suM13 = [[0,-0.2],[3,0.4],[6.6,0.4],[10.3,0.1],[13.9,0.1],[17.5,-0.2],[22.3,0.4],[25.9,0.4],[28.3,-1.0],[32,-2.0],[34.4,-1.0],[36.8,2.2],[39.2,2.7],[41,1.7],[42.8,-1.5],[45.2,-1.0],[47.6,0.6],[50.1,1.2],[53.7,0.4],[57.3,0.1],[60.9,-0.2],[64.5,0.9],[66.9,0.9],[70.6,0.1],[74.2,-1.5],[76.6,-2.3],[80.2,-0.4],[82.6,1.2],[85,2.5],[87.5,1.7],[89.9,-0.4],[93.5,-1.5],[95.9,0.1],[99.5,0.1],[103.1,-0.2],[106.8,-0.2],[111.6,0.4],[115.2,1.2],[118.8,0.6],[122.4,-0.4],[124.8,2.2],[127.3,3.3],[129.7,1.7],[132.1,-2.0],[134.5,-3.6],[136.9,-2.5],[139.3,0.6],[141.1,3.3],[142.9,4.6],[144.8,3.3],[146.6,-0.4],[149,-3.1],[151.4,-1.5],[153.8,0.6],[157.4,1.9],[161,1.2],[164.7,-0.2],[168.3,-0.4],[171.9,0.4],[175.5,0.9],[179.1,1.4],[180,1.4]];
const suM13d = [[0,-0.3],[4,0.2],[8,0.3],[12,0.0],[16,-0.3],[20,0.2],[24,0.5],[27,2.0],[29,2.2],[31,1.5],[33,-0.5],[35,-2.0],[37,-2.0],[39,-1.5],[41,0.2],[43,1.9],[45,1.7],[48,0.5],[51,0.8],[55,0.2],[59,0.0],[63,0.4],[67,0.6],[71,0.2],[74,1.6],[76,1.9],[79,0.2],[82,-1.5],[84,-1.6],[87,-0.5],[91,0.5],[95,1.7],[98,0.8],[102,0.0],[106,0.2],[110,-0.5],[113,-0.9],[116,-0.6],[119,-1.5],[122,-2.0],[125,-1.8],[127,1.5],[129,4.8],[131,4.5],[133,2.0],[135,-1.5],[137,-3.5],[139,-4.8],[141,-5.5],[143,-4.0],[145,0.0],[147,2.5],[149,2.7],[152,0.5],[155,-0.8],[158,-0.6],[161,-0.3],[164,0.2],[168,0.8],[170,1.7],[173,0.6],[177,0.2],[180,0.5]];
const suM14 = [[0,0.0],[4.2,-0.3],[9,-0.5],[13.9,-0.3],[18.7,0.0],[22.3,0.5],[25.9,0.0],[29.6,0.5],[32,-0.8],[34.4,-1.6],[36.8,-0.5],[40.4,0.0],[43.4,2.4],[45.8,1.3],[47.6,-0.5],[51.3,-1.8],[54.9,-1.1],[58.5,-0.3],[63.3,0.0],[68.2,0.3],[70.6,1.8],[73,2.4],[75.4,1.1],[77.8,-1.1],[81.4,-2.6],[85,-0.8],[88.7,1.3],[91.1,2.4],[93.5,1.3],[95.9,-0.5],[98.3,-1.6],[101.9,-0.5],[106.8,0.0],[111.6,0.5],[116.4,0.3],[120,0.0],[123.6,0.3],[127.3,0.0],[129.7,0.8],[132.1,2.4],[133.9,3.2],[135.1,0.0],[136.9,-2.1],[139.3,-3.7],[141.7,-1.6],[144.1,2.1],[145.4,-3.7],[147.2,4.5],[149,2.1],[151.4,-1.1],[153.8,-3.4],[156.2,-1.6],[159.8,1.1],[162.2,2.9],[164.7,1.3],[167.1,0.0],[169.5,-1.1],[171.9,-1.3],[174.3,-1.3],[176.7,-2.1],[179.1,-0.8],[180,-0.6]];
const suM14d = [[0,0.1],[5,-0.2],[10,-0.4],[15,0.0],[20,0.2],[24,0.4],[28,0.4],[31,2.1],[33,1.8],[36,0.3],[39,0.0],[42,-1.5],[45,-2.2],[48,0.0],[51,1.6],[54,1.2],[58,0.0],[62,0.2],[66,0.0],[70,-1.2],[73,0.0],[77,0.8],[80,1.6],[83,1.2],[86,-0.8],[89,-1.8],[92,-1.2],[95,0.8],[98,2.1],[101,0.8],[105,0.2],[109,0.4],[113,0.2],[117,0.3],[121,-0.5],[124,-1.6],[127,-2.1],[130,0.0],[132,2.5],[134,4.2],[136,3.5],[138,1.0],[141,-1.5],[144,-3.2],[146,-4.2],[148,-3.8],[150,-0.5],[152,2.5],[154,3.2],[156,2.0],[158,0.0],[160,-1.8],[163,-2.1],[166,-1.0],[169,0.2],[172,1.3],[174,1.6],[177,0.6],[180,0.8]];

// ---- Surface, organic subgrade ----
const suO10 = [[0,-2.4],[2,-1.8],[3.3,2.4],[4.5,0.3],[5.1,3.2],[6.3,-1.3],[7.5,3.4],[9.3,4.5],[10.5,3.9],[11.2,-3.0],[11.7,-5.5],[12.5,1.0],[13.5,1.3],[15.3,5.0],[17.1,0.3],[18.3,-6.0],[19.5,-4.5],[20.7,5.0],[21.9,0.3],[23.7,-2.4],[26.7,0.3],[29.2,2.4],[31.6,1.8],[34,0.3],[36.4,-1.8],[38.8,0.8],[41.2,1.8],[43.6,1.3],[46,0.5],[48.4,0.0],[52,0.0],[55.7,0.5],[58.1,1.3],[59.9,-0.3],[61.1,2.9],[62.3,-1.3],[63.5,3.4],[64.7,-3.4],[65.9,2.9],[67.1,-0.8],[68.9,1.3],[71.3,0.8],[73.1,4.2],[74.3,5.0],[75.5,4.2],[76.7,-2.6],[78,3.4],[79.8,-2.4],[82.2,-1.3],[84.6,-0.8],[87,-0.8],[89.4,-0.3],[91.8,0.3],[94.2,0.8],[96.6,0.8],[101.4,0.3],[106.3,0.0],[111.1,-0.5],[114.7,-0.3],[117.1,-0.3],[118.9,1.8],[120.1,-2.4],[121.3,3.4],[122.5,-2.9],[123.7,2.9],[125.5,-1.3],[128,0.8],[129.8,2.4],[131,-2.4],[132.2,2.9],[134,-0.8],[136.4,0.5],[138.8,0.8],[141.2,0.0],[144.2,-0.8],[147.2,-0.5],[150.8,0.3],[154.5,0.5],[158.1,0.8],[161.7,0.3],[165.3,0.8],[167.7,1.6],[170.1,-0.3],[173.7,-0.5],[176.1,-1.3],[178.6,-2.1],[180,-1.3]];
const suO10d = [[0,-3.2],[2,-3.9],[4,-2.0],[6,1.5],[8,3.2],[10,3.4],[12,1.0],[14,-0.5],[17,-1.0],[20,-0.5],[23,-0.6],[26,-1.0],[29,-1.0],[32,0.5],[35,1.5],[38,2.2],[41,3.2],[43,2.8],[46,0.0],[48,-1.5],[50,-2.1],[53,-0.5],[56,0.5],[59,0.8],[62,0.5],[65,0.0],[68,-0.5],[71,-1.5],[73,-3.0],[75,-3.7],[77,-1.0],[80,1.0],[83,2.6],[86,2.5],[89,0.8],[92,-1.0],[95,-2.0],[97,-2.1],[100,0.5],[103,3.0],[105,3.9],[107,2.0],[110,-0.5],[113,-1.6],[116,-1.0],[119,-0.2],[122,0.5],[126,0.3],[130,0.8],[134,0.4],[138,0.2],[142,-0.5],[146,0.0],[150,0.6],[154,1.5],[157,2.8],[159,3.4],[161,2.0],[163,-0.5],[165,-2.5],[167,-3.7],[169,-2.0],[171,0.5],[173,2.0],[175,2.9],[177,3.2],[178.5,4.5],[180,4.8]];
const suO11 = [[0,0.4],[2.7,0.4],[5.1,-0.7],[7.5,-2.3],[9.9,-2.0],[11.7,-0.4],[14.7,0.6],[17.1,1.7],[19.5,2.5],[21.9,1.7],[23.7,-0.7],[25.5,1.2],[28,0.4],[31.6,-0.7],[35.2,0.1],[38.8,-0.2],[42.4,0.1],[46,-0.4],[49.6,0.6],[53.3,-0.7],[55.7,0.4],[58.1,-0.4],[59.3,-1.2],[61.7,-0.7],[65.3,0.1],[68.9,0.4],[72.5,0.6],[73.7,-0.9],[76.1,0.4],[78.6,1.7],[82.2,0.1],[85.8,-1.2],[89.4,-0.7],[93,0.6],[95.4,-0.4],[97.8,-0.9],[101.4,-0.4],[105.1,-0.7],[108.7,0.1],[111.1,0.6],[114.7,0.4],[118.3,-0.7],[121.9,-1.2],[125.5,0.1],[127.3,2.2],[128.6,-1.2],[130.4,-1.5],[134,-0.7],[137.6,0.1],[142.4,0.4],[147.2,0.1],[152,-0.2],[156.9,0.1],[161.7,0.6],[164,3.8],[164.7,-4.1],[165.9,1.7],[167.7,4.3],[169.5,2.2],[171.3,-0.4],[173.1,-6.7],[174.3,7.4],[175.5,-5.7],[177.3,1.7],[178.6,-2.0],[180,-0.9]];
const suO11d = [[0,0.3],[3,0.6],[5.5,2.0],[8,2.2],[10,1.0],[12,0.0],[14,-1.0],[16.5,-3.0],[18.5,-4.6],[20,-3.5],[22,-1.0],[24,1.2],[26,2.2],[28,1.5],[31,-0.5],[35,0.0],[39,-0.3],[43,0.2],[46,-1.4],[48.5,-2.0],[51,-0.5],[55,0.3],[59,-0.2],[63,0.0],[67,0.5],[70,0.4],[73,-1.0],[76,-2.3],[78,-1.5],[81,0.5],[84,1.7],[88,1.5],[91,0.2],[95,-0.3],[98,-1.0],[100.5,-2.8],[102.5,-2.4],[104.5,1.0],[106.5,3.2],[108.5,3.8],[110.5,3.0],[113,0.5],[117,-0.5],[121,-0.4],[125,0.3],[129,-1.0],[133,0.0],[137,0.6],[141,0.2],[146,-0.5],[150,-1.2],[154,1.6],[156.5,2.7],[158.5,2.2],[161,0.5],[163,-1.5],[165,-4.1],[167,-2.0],[169,1.5],[171,0.0],[173,-5.0],[175,-3.0],[177,0.5],[180,0.0]];
const suO12 = [[0,0.8],[2.7,1.1],[5.1,0.5],[7.5,-0.3],[9.9,0.0],[13.5,0.3],[15.9,-0.3],[18.9,-1.8],[21.9,-0.5],[24.3,0.8],[28,1.1],[31,0.8],[34,-0.5],[37.6,-0.3],[41.2,0.3],[44.8,0.5],[48.4,-0.5],[50.8,0.3],[54.5,0.8],[58.1,0.0],[61.7,-0.8],[65.3,0.0],[70.1,0.0],[74.9,-0.3],[79.8,-0.5],[84.6,-0.3],[89.4,0.0],[94.2,0.8],[97.8,0.0],[101.4,-1.1],[103.9,-1.3],[106.3,0.0],[109.9,0.8],[113.5,0.5],[115.9,-0.3],[118.3,-1.1],[120.7,-0.5],[123.1,0.8],[126.7,1.1],[130.4,0.0],[134,-0.5],[137.6,0.3],[141.2,1.1],[144.8,1.1],[148.4,0.0],[152,-1.8],[155.7,-0.8],[159.3,0.3],[162.9,1.1],[165.3,1.8],[167.7,1.1],[170.1,-1.1],[171.9,-0.5],[173.7,-3.2],[175.5,-5.0],[177.3,-3.2],[178.6,0.5],[180,2.4]];
const suO12d = [[0,0.3],[3,1.2],[6,0.2],[9,-0.3],[12,0.5],[15,2.0],[17,1.8],[19,0.0],[22,-0.6],[25,1.0],[27,2.2],[30,1.0],[33,-0.3],[37,0.0],[41,0.5],[45,0.2],[49,-1.8],[52,-0.6],[55,1.0],[58,2.1],[61,0.5],[65,-0.3],[69,0.2],[73,-0.2],[77,0.0],[81,-0.4],[85,0.0],[89,0.5],[92,1.6],[95,1.2],[98,-1.0],[100,-3.0],[102,-4.2],[104,-2.0],[106,1.5],[108,3.2],[110,4.0],[112,3.8],[114,1.5],[116,-1.5],[118,-2.6],[120,-1.5],[122,0.5],[124,2.0],[127,1.2],[131,0.0],[135,-0.3],[139,0.5],[142.5,-1.2],[146,0.5],[150,0.8],[153,2.1],[156,1.5],[159,0.0],[162,-1.5],[164.5,-2.8],[166.5,-3.0],[168.5,-1.5],[171,0.5],[173,2.5],[174.5,3.7],[176,2.0],[178,0.5],[180,1.5]];
const suO13 = [[0,-0.9],[2.7,0.4],[5.1,0.6],[7.5,0.9],[9.9,1.7],[11.7,3.0],[13.5,0.6],[15.9,-0.4],[18.3,-1.2],[20.7,-0.4],[23.1,-0.7],[25.5,-0.2],[28,-0.9],[31.6,0.1],[34,0.4],[36.4,0.9],[38.8,1.7],[40,-0.4],[41.2,1.2],[43.6,0.9],[46,0.4],[49.6,-0.4],[53.3,-0.9],[55.7,0.4],[58.1,1.2],[61.7,0.4],[65.3,-0.4],[68.9,-0.9],[72.5,-0.4],[76.1,0.4],[79.8,0.6],[83.4,0.9],[87,0.4],[89.4,-0.2],[91.8,-2.0],[94.2,-2.3],[96.6,-1.5],[99,0.6],[100.8,3.3],[102.7,1.7],[105.1,0.1],[107.5,-1.0],[109.9,-2.0],[112.3,-0.4],[114.7,0.4],[118.3,0.9],[121.9,-0.4],[125.5,-0.9],[129.2,-0.7],[132.8,1.2],[136.4,-0.9],[139.4,-0.4],[142.4,0.4],[146,2.2],[148.4,3.3],[149,-2.5],[149.6,2.7],[152,1.7],[154.5,0.6],[156.9,-1.0],[159.9,-2.5],[162.9,-2.0],[166.5,-0.4],[168.9,2.7],[171.3,5.4],[173.7,3.3],[175.5,0.9],[177.3,3.8],[179.2,0.6],[180,-0.4]];
const suO13d = [[0,-0.5],[3,0.2],[6,0.4],[9,1.2],[11.5,2.4],[13,-1.0],[15,-2.0],[17,-1.2],[20,0.2],[23,1.7],[25,1.0],[28,-0.6],[31,-1.5],[34,0.0],[38,1.2],[41,0.6],[45,0.2],[49,-0.2],[53,-0.6],[57,1.0],[61,0.4],[65,-0.2],[69,-0.6],[73,0.0],[77,0.2],[81,0.6],[84,1.0],[87,2.2],[90,1.2],[93,-1.0],[96,-3.5],[98,-5.2],[100,-3.0],[102,2.0],[104,4.5],[106,4.2],[108,3.8],[110,0.5],[112,-3.6],[114,-1.5],[117,0.8],[119.5,1.7],[122,0.4],[126,-0.4],[130,0.2],[134,0.6],[137,-0.5],[141,0.5],[145,1.0],[148,2.0],[152,0.6],[155,-1.0],[158,-3.5],[160,-3.8],[162.5,-2.0],[165,0.0],[168,2.4],[170.5,5.0],[173,2.4],[175,0.0],[177,2.8],[179,-1.5],[180,-2.0]];
const suO14 = [[0,0.3],[3.6,0.3],[7.5,0.3],[9.9,1.1],[12.3,1.3],[14.7,0.0],[17.1,-1.6],[18.9,-2.9],[20.7,-0.8],[23.1,0.3],[25.5,1.6],[29.2,0.5],[31.6,0.0],[34,0.8],[37.6,-0.3],[41.2,0.0],[44.8,0.5],[47.2,-0.5],[50.8,-0.8],[54.5,0.0],[58.1,0.0],[60.5,0.5],[63.5,-0.3],[66.5,0.3],[70.1,1.3],[72.5,2.1],[74.9,1.1],[77.3,0.3],[81,-0.5],[84.6,-1.3],[88.2,-0.3],[91.8,0.3],[95.4,0.5],[99,0.0],[102.7,-0.5],[103.9,1.6],[105.1,-2.4],[106.3,0.5],[109.9,0.5],[113.5,1.1],[115.3,0.0],[117.1,-0.8],[119.5,0.3],[123.1,-0.3],[126.7,-0.3],[129.2,-0.8],[132.8,-1.6],[136.4,-0.8],[140,1.6],[142.4,2.9],[145.4,1.6],[148.4,-0.3],[152,-1.3],[155.7,-1.3],[159.3,-1.1],[162.9,0.5],[165.9,0.3],[168.9,1.1],[171.3,2.1],[173.1,-2.1],[174.9,-3.9],[176.7,-1.6],[178.6,0.0],[180,0.3]];
const suO14d = [[0,0.0],[4,0.5],[8,1.0],[10.5,2.6],[12.5,2.4],[15,0.5],[18,-0.5],[21,-0.8],[23.5,-1.6],[26,-0.5],[29,0.5],[32,1.2],[35,1.8],[38,0.5],[41,0.0],[44,-1.0],[46.5,-2.1],[49,-1.5],[53,0.0],[57,0.5],[61,0.0],[64,-1.0],[67,-2.1],[70,-1.6],[73,0.0],[77,1.2],[80,1.6],[83,1.2],[87,0.2],[90,1.2],[93,1.8],[96,1.0],[98.5,-1.0],[101,-2.5],[103,-3.2],[105,0.5],[106.5,3.5],[108,4.0],[110,2.5],[112,0.0],[114,-2.0],[116,-3.2],[118,-2.5],[121,0.0],[125,1.2],[128,0.6],[132,-0.2],[136,-0.8],[140,-1.6],[143,-0.5],[146,0.5],[149,2.0],[152,2.4],[155,2.2],[158,2.4],[160,1.0],[162,-2.0],[164,-3.4],[166,-3.0],[168,-1.0],[170,1.0],[172,2.5],[174,4.0],[176,3.5],[178,1.0],[180,-0.5]];

// ---- panel layout ----
const FONT = '"Liberation Sans", Arial, Helvetica, sans-serif';
const INK = '#262626';
const colLeft = [117, 728];
const colWidth = [497, 498];
const rowTop = [63, 466, 868];
const rowHeight = [349, 347, 348];

const panels = [
  { letter: 'a)', col: 0, row: 0, rowName: 'Crosslevel', color: '#c8c8c8', width: 4, smooth: 0.2, solid: [cxM10, cxM11, cxM12, cxM13, cxM14], dotted: null },
  { letter: 'd)', col: 1, row: 0, rowName: null, color: '#c8c8c8', width: 4, smooth: 0.2, solid: [cxO10, cxO11, cxO12, cxO13, cxO14], dotted: null },
  { letter: 'b)', col: 0, row: 1, rowName: 'Alignment', color: '#4d4d4d', width: 4.5, smooth: 0.2, solid: [alM10, alM11, alM12, alM13, alM14], dotted: [alM10d, alM11d, alM12d, alM13d, alM14d] },
  { letter: 'e)', col: 1, row: 1, rowName: null, color: '#4d4d4d', width: 4.5, smooth: 0.2, solid: [alO10, alO11, alO12, alO13, alO14], dotted: [alO10d, alO11d, alO12d, alO13d, alO14d] },
  { letter: 'c)', col: 0, row: 2, rowName: 'Surface', color: '#7f7f7f', width: 4, smooth: false, solid: [suM10, suM11, suM12, suM13, suM14], dotted: [suM10d, suM11d, suM12d, suM13d, suM14d] },
  { letter: 'f)', col: 1, row: 2, rowName: null, color: '#7f7f7f', width: 4, smooth: false, solid: [suO10, suO11, suO12, suO13, suO14], dotted: [suO10d, suO11d, suO12d, suO13d, suO14d] }
];

const yMax = traceSpacing / 2;
const yMin = -traceSpacing * (surveyLabels.length - 1) - traceSpacing / 2;
const shift = (pts, k) => pts.map(p => [p[0], p[1] - traceSpacing * k]);

const grids = [], xAxes = [], yAxes = [], series = [], graphics = [];

panels.forEach((p, i) => {
  grids.push({
    left: colLeft[p.col], top: rowTop[p.row], width: colWidth[p.col], height: rowHeight[p.row],
    show: true, borderColor: INK, borderWidth: 1.5, backgroundColor: 'transparent'
  });
  const xBase = {
    gridIndex: i, type: 'value', min: distanceTicks[0], max: distanceTicks[distanceTicks.length - 1],
    interval: distanceTicks[1] - distanceTicks[0], axisLine: { show: false },
    axisTick: { show: true, inside: true, length: 5, lineStyle: { color: INK, width: 1 } }
  };
  xAxes.push(Object.assign({}, xBase, {
    position: 'bottom',
    axisLabel: { show: true, fontSize: 24, fontFamily: FONT, color: INK, margin: 14 },
    splitLine: { show: true, lineStyle: { color: '#d9d9d9', width: 1 } },
    name: p.row === 2 ? 'Distance [m]' : '', nameLocation: 'middle', nameGap: 47,
    nameTextStyle: { fontSize: 24, fontWeight: 'bold', fontFamily: FONT, color: INK }
  }));
  xAxes.push(Object.assign({}, xBase, {
    position: 'top', axisLabel: { show: false }, splitLine: { show: false }
  }));
  yAxes.push({
    gridIndex: i, type: 'category', position: 'left', inverse: true, data: surveyLabels,
    boundaryGap: true, axisLine: { show: false },
    axisTick: { show: true, inside: true, alignWithLabel: true, length: 5, lineStyle: { color: INK, width: 1 } },
    axisLabel: { show: true, rotate: 90, interval: 0, fontSize: 24, lineHeight: 28, fontFamily: FONT, color: INK, margin: 11, align: 'center' },
    splitLine: { show: false },
    name: p.rowName || '', nameLocation: 'middle', nameRotate: 90, nameGap: 82,
    nameTextStyle: { fontSize: 24, fontWeight: 'bold', fontFamily: FONT, color: INK }
  });
  yAxes.push({
    gridIndex: i, type: 'category', position: 'right', inverse: true, data: surveyLabels,
    boundaryGap: true, axisLine: { show: false }, axisLabel: { show: false },
    axisTick: { show: true, inside: true, alignWithLabel: true, length: 5, lineStyle: { color: INK, width: 1 } },
    splitLine: { show: false }
  });
  yAxes.push({ gridIndex: i, type: 'value', show: false, min: yMin, max: yMax, position: 'left' });

  const xi = 2 * i, yi = 3 * i + 2;
  // survey baselines
  surveyLabels.forEach((_, k) => {
    series.push({
      type: 'line', xAxisIndex: xi, yAxisIndex: yi, silent: true, showSymbol: false, z: 1,
      data: [[distanceTicks[0], -traceSpacing * k], [distanceTicks[distanceTicks.length - 1], -traceSpacing * k]],
      lineStyle: { color: '#dcdcdc', width: 1 }, animation: false
    });
  });
  // dotted (second run) then solid traces
  if (p.dotted) {
    p.dotted.forEach((tr, k) => {
      series.push({
        type: 'line', xAxisIndex: xi, yAxisIndex: yi, silent: true, showSymbol: false, z: 2,
        data: shift(tr, k), clip: true, smooth: p.smooth, smoothMonotone: 'x',
        lineStyle: { color: p.color, width: 2.6, type: [3, 4], cap: 'butt' }, animation: false
      });
    });
  }
  p.solid.forEach((tr, k) => {
    series.push({
      type: 'line', xAxisIndex: xi, yAxisIndex: yi, silent: true, showSymbol: false, z: 3,
      data: shift(tr, k), clip: true, smooth: p.smooth, smoothMonotone: 'x',
      lineStyle: { color: p.color, width: p.width, join: 'round', cap: 'round' }, animation: false
    });
  });
  // 5 mm scale bar
  const barMid = -traceSpacing * 3.5 - 0.45;
  series.push({
    type: 'custom', xAxisIndex: xi, yAxisIndex: yi, silent: true, z: 4, animation: false,
    data: [[4.5, barMid + scaleBarMm / 2, barMid - scaleBarMm / 2]],
    renderItem: function (params, api) {
      const a = api.coord([api.value(0), api.value(1)]);
      const b = api.coord([api.value(0), api.value(2)]);
      const st = { stroke: INK, lineWidth: 1.6 };
      return {
        type: 'group', children: [
          { type: 'line', shape: { x1: a[0], y1: a[1], x2: b[0], y2: b[1] }, style: st },
          { type: 'line', shape: { x1: a[0] - 5, y1: a[1], x2: a[0] + 5, y2: a[1] }, style: st },
          { type: 'line', shape: { x1: b[0] - 5, y1: b[1], x2: b[0] + 5, y2: b[1] }, style: st },
          { type: 'text', x: a[0] + 6, y: (a[1] + b[1]) / 2 + 1,
            style: { text: scaleBarMm + 'mm', font: '24px ' + FONT, fill: '#000', align: 'left', verticalAlign: 'middle', textAlign: 'left', textVerticalAlign: 'middle' } }
        ]
      };
    }
  });

  // panel letter
  graphics.push({
    type: 'text', x: colLeft[p.col] - 70, y: rowTop[p.row] - 12,
    style: { text: p.letter, font: 'bold 27px ' + FONT, fill: '#000', align: 'center', verticalAlign: 'middle', textAlign: 'center', textVerticalAlign: 'middle' }
  });
});

const columnTitles = ['Mineral Soil Subgrade', 'Organic (soft) Subgrade Soils'];
columnTitles.forEach((t, c) => {
  graphics.push({
    type: 'text', x: colLeft[c] + colWidth[c] / 2, y: 22,
    style: { text: t, font: 'bold 30px ' + FONT, fill: '#000', align: 'center', verticalAlign: 'middle', textAlign: 'center', textVerticalAlign: 'middle' }
  });
});

const chart = echarts.init(document.getElementById('chart'), null, { renderer: 'canvas' });
chart.setOption({
  backgroundColor: '#ffffff',
  animation: false,
  grid: grids,
  xAxis: xAxes,
  yAxis: yAxes,
  series: series,
  graphic: graphics
});
</script>
</body>
</html>
